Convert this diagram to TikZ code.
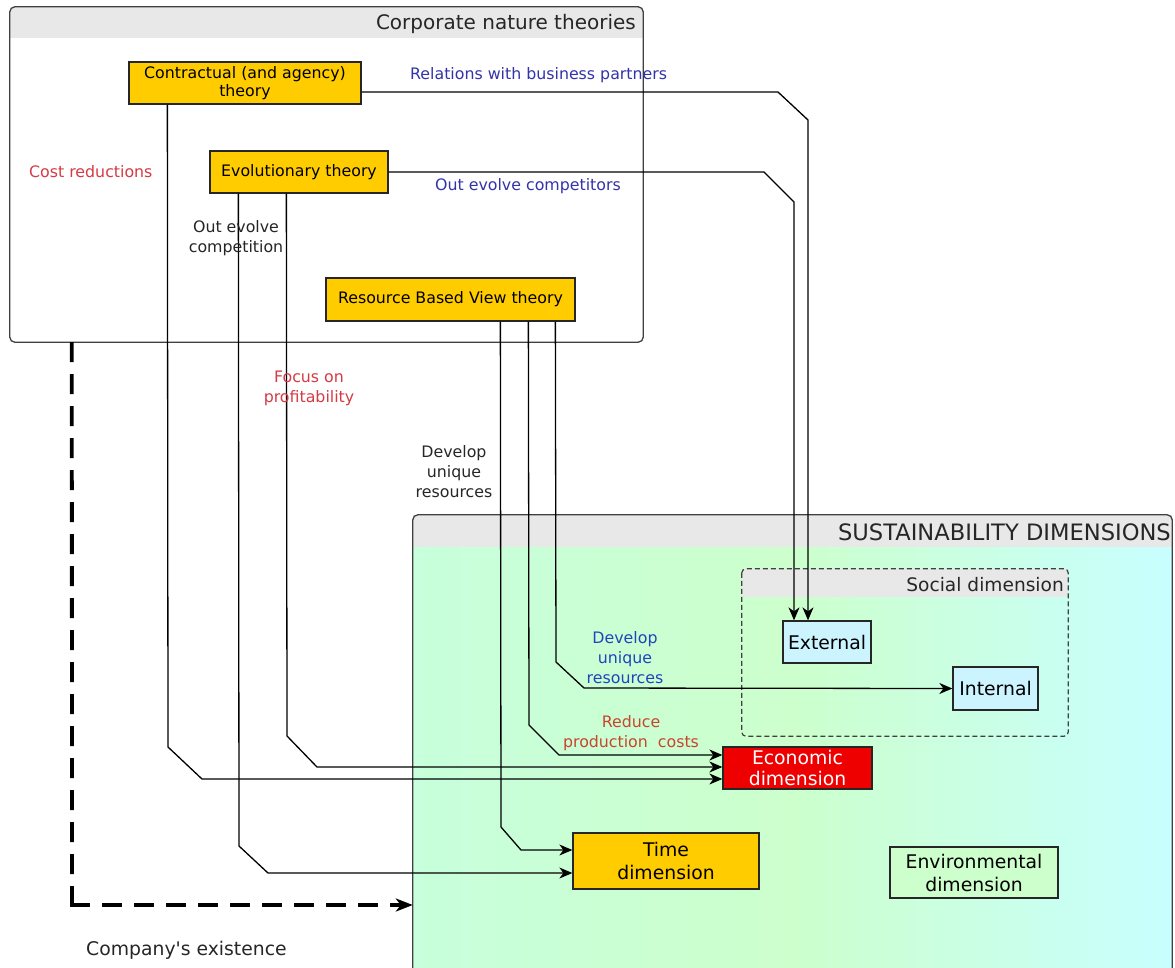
\documentclass[tikz,border=0pt]{standalone}
\usepackage{fontspec}
\setmainfont{DejaVu Sans}
\newfontfamily\rawfont[Ligatures=TeXOff]{DejaVu Sans}
\usetikzlibrary{arrows.meta}
\definecolor{boxyellow}{HTML}{FFCC00}
\definecolor{econred}{HTML}{EE0000}
\definecolor{hdrgray}{HTML}{E8E8E8}
\definecolor{lblblue}{HTML}{3333AA}
\definecolor{lblbluetwo}{HTML}{2244BB}
\definecolor{lblred}{HTML}{D63A44}
\definecolor{lblredtwo}{HTML}{C8452E}
\definecolor{extcyan}{HTML}{CCF4FF}
\definecolor{envgreen}{HTML}{CCFFCC}
\definecolor{mintL}{HTML}{C8FFDC}
\definecolor{mintM}{HTML}{CCFFCC}
\definecolor{mintR}{HTML}{C8FFFF}
\newcommand{\fsz}[2]{\fontsize{#1}{#2}\selectfont}
\begin{document}
\begin{tikzpicture}[x=1pt,y=-1pt,
  conn/.style={draw=black, line width=1.3pt, -{Stealth[length=13pt,width=11pt,inset=4pt]}},
  theory/.style={draw=black!85, line width=1.3pt, fill=boxyellow, inner sep=0pt, align=center, font=\fsz{15.8}{18}},
  dimbox/.style={draw=black!85, line width=1.3pt, inner sep=0pt, align=center, font=\fsz{18.8}{22}},
  lbl/.style={inner sep=0pt, align=center, font=\fsz{15.8}{20}},
  frame/.style={draw=black!75, line width=1.3pt, rounded corners=5pt},
  thickdash/.style={line width=3.8pt, line cap=butt, dash pattern=on 20pt off 12pt}
]
\path[use as bounding box, clip] (0,0) rectangle (1175,967);

% --- containers ---
\node[fill=white, minimum width=633pt, minimum height=335pt, inner sep=0pt] (corp) at (326.5,174.5) {};
\begin{scope}
  \clip[rounded corners=5pt] (corp.north west) rectangle (corp.south east);
  \fill[hdrgray] (corp.north west) rectangle ([yshift=-31pt]corp.north east);
\end{scope}
\draw[frame] (corp.north west) rectangle (corp.south east);
\node[anchor=east, inner sep=0pt, font=\fsz{20}{24}, text=black!85] (corptitle) at (636,24) {Corporate nature theories};

\node[left color=mintL, right color=mintR, middle color=mintM, minimum width=759pt, minimum height=470pt, inner sep=0pt] (sus) at (792.5,750) {};
\begin{scope}
  \clip[rounded corners=5pt] (sus.north west) rectangle (sus.south east);
  \fill[hdrgray] (sus.north west) rectangle ([yshift=-32pt]sus.north east);
\end{scope}
\draw[frame] (sus.north west) rectangle (sus.south east);
\node[anchor=east, inner sep=0pt, font=\fsz{22.6}{26}, text=black!85] (sustitle) at (1171,532) {SUSTAINABILITY DIMENSIONS};

\node[minimum width=326pt, minimum height=167pt, inner sep=0pt] (social) at (905,652.5) {};
\begin{scope}
  \clip[rounded corners=4pt] (social.north west) rectangle (social.south east);
  \fill[hdrgray] (social.north west) rectangle ([yshift=-28pt]social.north east);
\end{scope}
\draw[draw=black!75, line width=1.2pt, rounded corners=4pt, dash pattern=on 5pt off 3pt] (social.north west) rectangle (social.south east);
\node[anchor=east, inner sep=0pt, font=\fsz{18.6}{22}, text=black!85] (socialtitle) at (1064,585) {Social dimension};

% --- boxes ---
\node[theory, minimum width=232pt, minimum height=42pt] (contr) at (245,83) {Contractual (and agency)\\theory};
\node[theory, minimum width=178pt, minimum height=42pt] (evol) at (299,172) {Evolutionary theory};
\node[theory, minimum width=249pt, minimum height=43pt] (rbv) at (450.5,299.5) {Resource Based View theory};

\node[dimbox, fill=extcyan, minimum width=88pt, minimum height=42pt] (ext) at (827,642) {External};
\node[dimbox, fill=extcyan, minimum width=85pt, minimum height=43pt] (int) at (995.5,688.5) {Internal};
\node[dimbox, fill=econred, text=white, minimum width=149pt, minimum height=42pt, font=\fsz{18.8}{21}] (econ) at (797.5,768) {Economic\\dimension};
\node[dimbox, fill=boxyellow, minimum width=186pt, minimum height=56pt, font=\fsz{18.8}{23}] (time) at (666,861) {Time\\dimension};
\node[dimbox, fill=envgreen, minimum width=168pt, minimum height=51pt, font=\fsz{18.8}{23}] (env) at (974,872.5) {Environmental\\dimension};

% --- connectors ---
\draw[conn] ([yshift=-9pt]contr.east) -- (778,92) -- (808,120) -- ([xshift=-19pt]ext.north);
\draw[conn] (evol.east) -- (764,172) -- (794,202) -- ([xshift=-33pt]ext.north);
\draw[conn] ([xshift=39pt]contr.south west) -- (168,747) -- (202,779) -- ([yshift=-11pt]econ.west);
\draw[conn] ([xshift=77pt]evol.south west) -- (287,736) -- (317,767) -- ([yshift=1pt]econ.west);
\draw[conn] ([xshift=29pt]evol.south west) -- (239,846) -- (268,873) -- ([yshift=-12pt]time.west);
\draw[conn] ([xshift=175pt]rbv.south west) -- (501,827) -- (521,850) -- ([yshift=11pt]time.west);
\draw[conn] ([xshift=203pt]rbv.south west) -- (529,725) -- (559,755) -- ([yshift=13pt]econ.west);
\draw[conn] ([xshift=230pt]rbv.south west) -- (556,662) -- (584,688) -- (int.west);

\coordinate (dcorner) at (72,905);
\draw[thickdash] ([xshift=62pt]corp.south west) -- ([yshift=-2pt]dcorner);
\draw[thickdash, -{Stealth[length=17pt,width=13pt,inset=5pt]}] ([xshift=-2pt]dcorner) -- (dcorner -| sus.west);

% --- labels ---
\node[lbl, anchor=west, text=lblblue] (l1) at (410,75) {Relations with business partners};
\node[lbl, anchor=west, text=lblblue] (l2) at (435,186) {Out evolve competitors};
\node[lbl, anchor=west, text=lblred] (l3) at (29,172) {Cost reductions};
\node[lbl, text=black!85] (l4) at (236,238) {Out evolve\\competition};
\node[lbl, text=lblred] (l5) at (309,388) {Focus on\\profitability};
\node[lbl, text=black!85] (l6) at (454,472) {Develop\\unique\\resources};
\node[lbl, text=lblbluetwo] (l7) at (625,658) {Develop\\unique\\resources};
\node[lbl, text=lblredtwo] (l8) at (631,733) {Reduce\\production~ costs};
\node[anchor=west, inner sep=0pt, font=\fsz{18.8}{22}\rawfont, text=black!85] (l9) at (86,950) {Company's existence};
\end{tikzpicture}
\end{document}
